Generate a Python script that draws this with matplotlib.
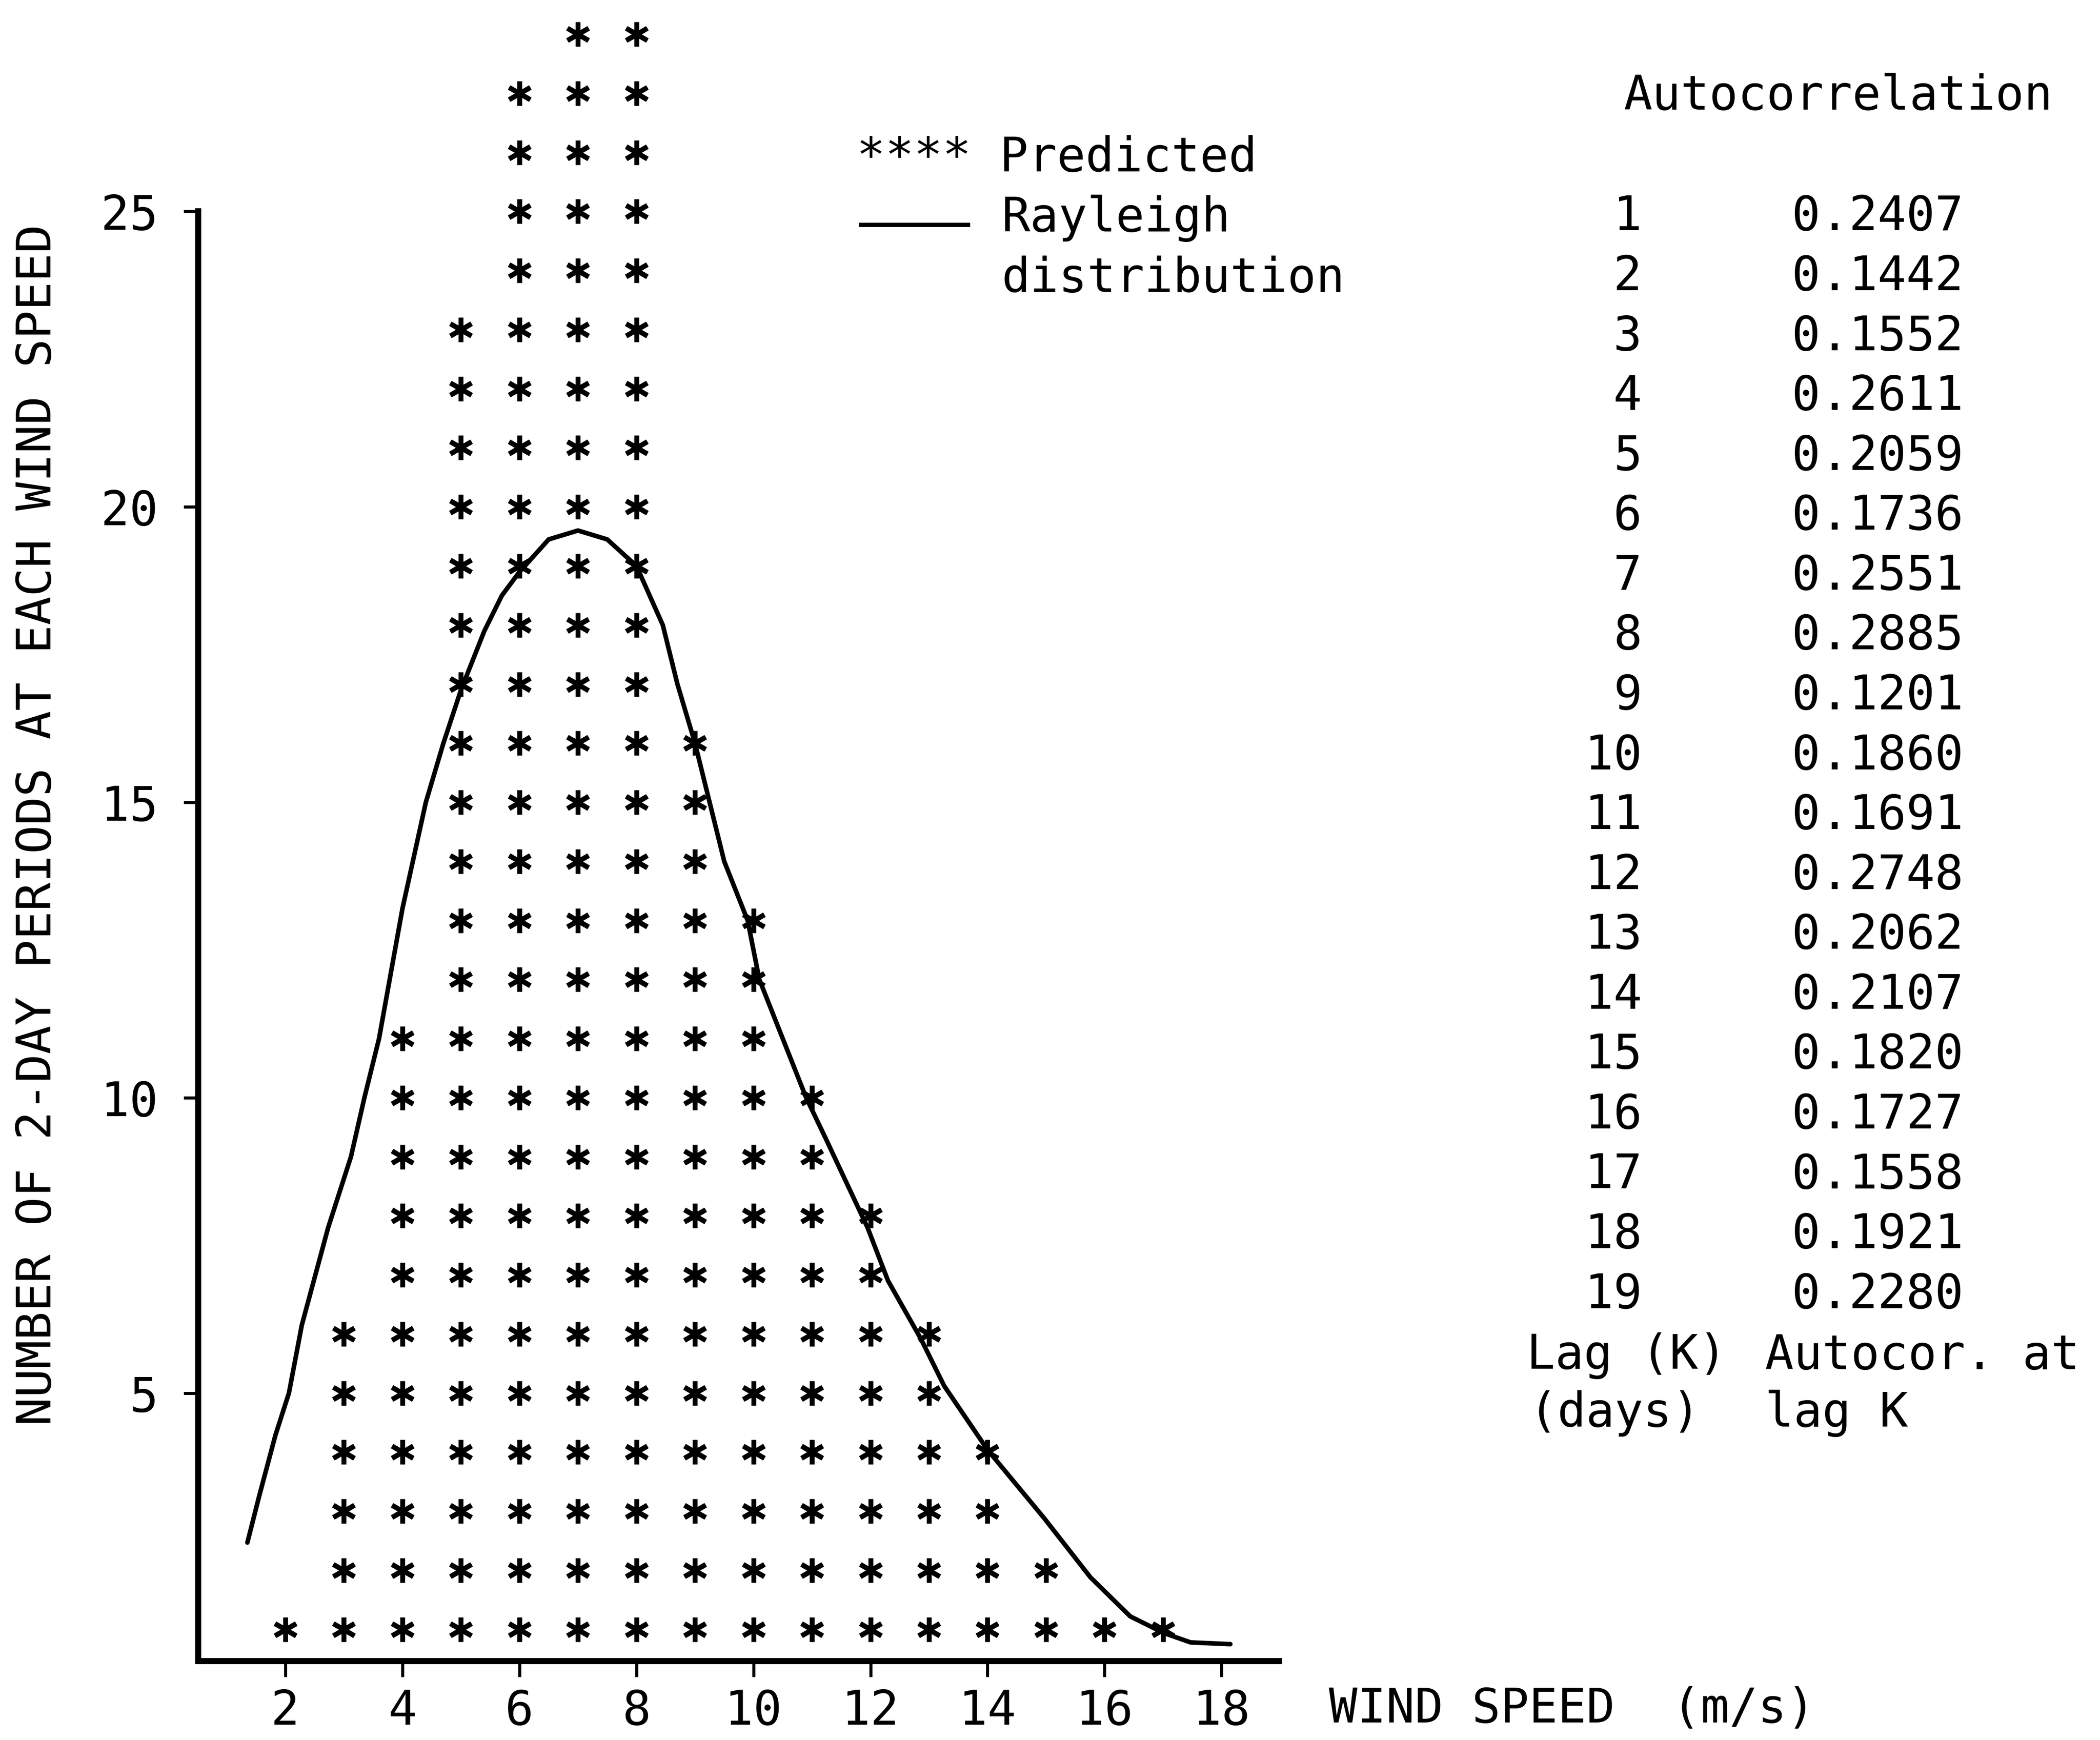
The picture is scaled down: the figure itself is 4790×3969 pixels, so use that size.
import matplotlib
matplotlib.use("Agg")
import matplotlib.pyplot as plt
from matplotlib.lines import Line2D

# dane
predkosc = [2, 3, 4, 5, 6, 7, 8, 9, 10, 11, 12, 13, 14, 15, 16, 17]
liczba = [1, 6, 11, 23, 27, 28, 28, 16, 13, 10, 8, 6, 4, 2, 1, 1]

# krzywa Rayleigha
ray_x = [1.35, 1.55, 1.83, 2.06, 2.28, 2.73, 3.12, 3.35, 3.6, 4.0, 4.4, 4.7, 5.0,
         5.4, 5.7, 6.0, 6.5, 7.0, 7.5, 8.0, 8.45, 8.7, 9.0, 9.5, 9.9, 10.1, 10.5,
         10.9, 11.22, 11.95, 12.3, 12.86, 13.26, 14.0, 14.97, 15.76, 16.44, 17.01,
         17.47, 18.15]
ray_y = [2.47, 3.25, 4.29, 5.0, 6.15, 7.8, 9.0, 10.0, 11.0, 13.2, 15.0, 16.0, 16.9,
         17.9, 18.5, 18.9, 19.45, 19.6, 19.45, 19.0, 18.0, 17.0, 16.0, 14.0, 13.0,
         12.0, 11.0, 10.0, 9.34, 7.8, 6.9, 5.92, 5.12, 4.04, 2.88, 1.88, 1.22, 0.94,
         0.78, 0.75]

lag = list(range(1, 20))
autokor = [0.2407, 0.1442, 0.1552, 0.2611, 0.2059, 0.1736, 0.2551, 0.2885, 0.1201,
           0.1860, 0.1691, 0.2748, 0.2062, 0.2107, 0.1820, 0.1727, 0.1558, 0.1921,
           0.2280]

xticki = [2, 4, 6, 8, 10, 12, 14, 16, 18]
yticki = [5, 10, 15, 20, 25]

mono = "DejaVu Sans Mono"
fs = 78

fig = plt.figure(figsize=(47.9, 39.69), dpi=100)
ax = fig.add_axes([0.0944, 0.0454, 0.5146, 0.9546])

# gwiazdki - kazda obserwacja to jedna gwiazdka
for x, n in zip(predkosc, liczba):
    ax.plot([x] * n, list(range(1, n + 1)), linestyle="none", marker=(6, 2, 0),
            markersize=40, markeredgewidth=8, color="black", clip_on=False)

ax.plot(ray_x, ray_y, color="black", linewidth=7.5, solid_capstyle="round",
        solid_joinstyle="round")

ax.set_xlim(0.51, 18.98)
ax.set_ylim(0.465, 28.58)
ax.set_xticks(xticki)
ax.set_yticks(yticki)
ax.set_xticklabels([str(t) for t in xticki], fontsize=fs, family=mono)
ax.set_yticklabels([str(t) for t in yticki], fontsize=fs, family=mono)
ax.tick_params(axis="x", direction="out", length=26, width=5, pad=18)
ax.tick_params(axis="y", direction="out", length=24, width=5, pad=42)

for s in ["top", "right"]:
    ax.spines[s].set_visible(False)
ax.spines["left"].set_linewidth(10)
ax.spines["bottom"].set_linewidth(10)
ax.spines["left"].set_bounds(0.465, 25)

# opisy osi
fig.text(0.0179, 0.5258, "NUMBER OF 2-DAY PERIODS AT EACH WIND SPEED", rotation=90,
         ha="center", va="center", fontsize=fs, family=mono)
fig.text(0.6327, 0.0177, "WIND SPEED  (m/s)", ha="left", va="center",
         fontsize=fs, family=mono)

# legenda
fig.text(0.408, 0.9092, "**** Predicted", ha="left", va="center", fontsize=fs, family=mono)
fig.text(0.477, 0.8745, "Rayleigh", ha="left", va="center", fontsize=fs, family=mono)
fig.text(0.477, 0.8399, "distribution", ha="left", va="center", fontsize=fs, family=mono)
fig.add_artist(Line2D([0.410, 0.461], [0.8707, 0.8707], color="black", linewidth=7,
                      transform=fig.transFigure))

# tabela autokorelacji
fig.text(0.773, 0.9446, "Autocorrelation", ha="left", va="center", fontsize=fs, family=mono)
y0 = 0.8753
dy = 0.03441
for i in range(len(lag)):
    y = y0 - i * dy
    fig.text(0.7819, y, str(lag[i]), ha="right", va="center", fontsize=fs, family=mono)
    fig.text(0.8533, y, "%.4f" % autokor[i], ha="left", va="center", fontsize=fs, family=mono)

fig.text(0.727, 0.2209, "Lag (K)", ha="left", va="center", fontsize=fs, family=mono)
fig.text(0.8406, 0.2209, "Autocor. at", ha="left", va="center", fontsize=fs, family=mono)
fig.text(0.728, 0.1878, "(days)", ha="left", va="center", fontsize=fs, family=mono)
fig.text(0.8406, 0.1878, "lag K", ha="left", va="center", fontsize=fs, family=mono)

fig.savefig("out.png", dpi=100)
